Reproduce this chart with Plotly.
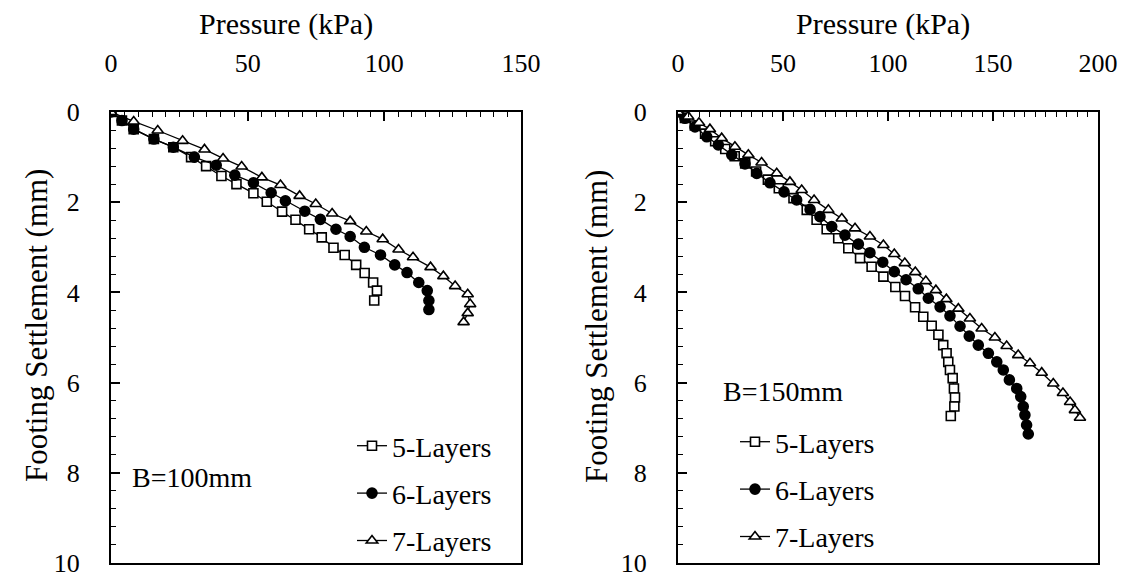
import plotly.graph_objects as go

# ---------------- data ----------------
# Left panel: B = 100 mm
p5_L = [0, 4.0, 8.3, 15.7, 22.8, 29.3, 34.8, 40.4, 45.9, 52.1, 57.0, 62.6, 67.5, 72.5, 77.1, 81.4, 85.5, 89.7, 92.8, 95.9, 97.3, 96.3]
s5_L = [0, 0.19, 0.38, 0.60, 0.78, 1.00, 1.20, 1.42, 1.60, 1.80, 1.99, 2.21, 2.39, 2.60, 2.78, 3.01, 3.17, 3.39, 3.57, 3.78, 3.96, 4.18]

p6_L = [0, 4.0, 8.3, 15.7, 22.8, 30.5, 38.5, 45.3, 52.1, 58.6, 63.8, 70.9, 76.6, 82.3, 87.5, 92.7, 98.6, 103.8, 108.3, 112.6, 115.7, 116.3, 116.3]
s6_L = [0, 0.19, 0.38, 0.60, 0.78, 1.00, 1.18, 1.40, 1.57, 1.79, 1.97, 2.20, 2.38, 2.60, 2.76, 3.00, 3.17, 3.39, 3.56, 3.78, 3.96, 4.18, 4.38]

p7_L = [0, 8.3, 17.1, 26.2, 34.2, 41.0, 47.8, 55.2, 62.0, 69.0, 74.9, 80.9, 87.5, 93.4, 99.4, 105.2, 110.5, 116.9, 121.6, 125.9, 130.5, 131.4, 130.5, 129.0]
s7_L = [0, 0.21, 0.41, 0.64, 0.83, 1.03, 1.21, 1.45, 1.62, 1.86, 2.04, 2.25, 2.42, 2.65, 2.82, 3.05, 3.22, 3.44, 3.64, 3.86, 4.04, 4.26, 4.46, 4.66]

# Right panel: B = 150 mm
p5_R = [0, 3.3, 8.0, 12.9, 17.7, 22.5, 27.0, 32.0, 37.2, 42.8, 48.0, 55.0, 61.3, 66.0, 70.8, 76.3, 81.1, 86.7, 92.2, 97.8,
        103.5, 108.1, 112.9, 116.8, 120.8, 124.0, 126.3, 127.9, 128.7, 129.5, 130.8, 131.4, 131.9, 131.6, 129.9]
s5_R = [0, 0.13, 0.30, 0.48, 0.65, 0.82, 0.98, 1.14, 1.32, 1.50, 1.69, 1.91, 2.17, 2.39, 2.60, 2.80, 3.02, 3.24, 3.43, 3.65,
        3.88, 4.08, 4.33, 4.54, 4.74, 4.94, 5.17, 5.35, 5.54, 5.72, 5.90, 6.13, 6.33, 6.53, 6.74]

p6_R = [0, 3.3, 8.1, 13.7, 19.2, 25.6, 31.9, 37.5, 43.8, 50.5, 56.5, 62.9, 67.6, 73.2, 79.5, 85.9, 91.4, 97.5, 103.0, 108.6,
        114.4, 119.2, 124.8, 129.5, 134.3, 138.7, 143.0, 147.8, 151.8, 154.9, 157.8, 161.3, 163.2, 164.4, 165.2, 166.0, 166.8]
s6_R = [0, 0.14, 0.33, 0.55, 0.73, 0.95, 1.15, 1.36, 1.57, 1.77, 1.95, 2.16, 2.32, 2.54, 2.73, 2.93, 3.12, 3.33, 3.54, 3.72,
        3.92, 4.13, 4.32, 4.52, 4.75, 4.97, 5.17, 5.35, 5.54, 5.72, 5.94, 6.13, 6.31, 6.53, 6.72, 6.94, 7.14]

p7_R = [0, 4.8, 10.0, 15.2, 20.8, 27.1, 33.5, 39.8, 47.0, 53.3, 58.9, 64.8, 71.6, 78.0, 84.3, 91.4, 97.8, 103.0, 108.0, 113.0,
        118.0, 122.8, 127.8, 133.5, 139.0, 144.6, 150.9, 156.5, 162.0, 167.6, 173.2, 178.7, 183.3, 186.7, 189.0, 191.4]
s7_R = [0, 0.10, 0.24, 0.38, 0.58, 0.77, 0.95, 1.12, 1.36, 1.55, 1.73, 1.95, 2.17, 2.36, 2.58, 2.76, 2.95, 3.15, 3.35, 3.55,
        3.75, 3.95, 4.15, 4.36, 4.58, 4.80, 5.00, 5.19, 5.39, 5.57, 5.78, 6.02, 6.23, 6.43, 6.61, 6.78]

series_names = ["5-Layers", "6-Layers", "7-Layers"]
panel_labels = ["B=100mm", "B=150mm"]
x_title = "Pressure (kPa)"
y_title = "Footing Settlement (mm)"

# ---------------- styling ----------------
PAGE_OFF = 8                      # default page body margin
W, H = 1126 - PAGE_OFF, 576 - PAGE_OFF
FONT = "Liberation Serif"
FS_LEG = 28
FS_TICK = 26
FS_XTITLE = 30
FS_YTITLE = 31
BLACK = "#000000"

styles = [
    dict(symbol="square", color="white", size=9),
    dict(symbol="circle", color=BLACK, size=10),
    dict(symbol="triangle-up", color="white", size=10),
]

fig = go.Figure()

left = [(p5_L, s5_L), (p6_L, s6_L), (p7_L, s7_L)]
right = [(p5_R, s5_R), (p6_R, s6_R), (p7_R, s7_R)]

for panel, (data, xa, ya, lg) in enumerate([(left, "x", "y", "legend"), (right, "x2", "y2", "legend2")]):
    for i, (px, sy) in enumerate(data):
        st = styles[i]
        fig.add_trace(go.Scatter(
            x=px, y=sy, mode="lines+markers", name=series_names[i],
            xaxis=xa, yaxis=ya, legend=lg, legendgroup=f"{panel}-{i}",
            line=dict(color=BLACK, width=1.3),
            marker=dict(symbol=st["symbol"], size=st["size"], color=st["color"],
                        line=dict(color=BLACK, width=1.6)),
            showlegend=True,
        ))

# screen pixel -> paper fraction
def fx(v):
    return (v - PAGE_OFF) / W

def fy(v):
    return 1 - (v - PAGE_OFF) / H

y_dom = [fy(563), fy(112)]

def xaxis(domain, rng, anchor):
    return dict(
        domain=domain, range=rng, side="top", anchor=anchor, automargin=False,
        tickmode="linear", tick0=0, dtick=50,
        ticks="inside", ticklen=9, tickwidth=1.5, tickcolor=BLACK,
        minor=dict(dtick=5, tick0=0, ticks="inside", ticklen=5, tickwidth=1.3, tickcolor=BLACK, showgrid=False),
        showline=True, linecolor=BLACK, linewidth=2, mirror=True,
        showgrid=False, zeroline=False,
        tickfont=dict(family=FONT, size=FS_TICK, color=BLACK),
        ticklabelstandoff=28, ticklabeloverflow="allow",
    )

def yaxis(domain, anchor):
    return dict(
        domain=domain, range=[10, 0], anchor=anchor, automargin=False,
        tickmode="linear", tick0=0, dtick=2,
        ticks="inside", ticklen=9, tickwidth=1.5, tickcolor=BLACK,
        minor=dict(dtick=0.4, tick0=0, ticks="inside", ticklen=5, tickwidth=1.3, tickcolor=BLACK, showgrid=False),
        showline=True, linecolor=BLACK, linewidth=2, mirror=True,
        showgrid=False, zeroline=False,
        tickfont=dict(family=FONT, size=FS_TICK, color=BLACK),
        ticklabelstandoff=24, ticklabeloverflow="allow",
    )

legend_common = dict(
    font=dict(family=FONT, size=FS_LEG, color=BLACK),
    bgcolor="rgba(0,0,0,0)", borderwidth=0,
    traceorder="grouped", tracegroupgap=8,
    xanchor="left", yanchor="top", itemsizing="trace",
)

def txt(size, **kw):
    d = dict(showarrow=False, font=dict(family=FONT, size=size, color=BLACK), xanchor="center", yanchor="middle")
    d.update(kw)
    return d

annos = [
    txt(FS_XTITLE, text=x_title, x=fx(286), y=fy(24), xref="paper", yref="paper"),
    txt(FS_XTITLE, text=x_title, x=fx(883), y=fy(24), xref="paper", yref="paper"),
    txt(FS_YTITLE, text=y_title, x=fx(36), y=fy(326), xref="paper", yref="paper", textangle=-90),
    txt(FS_YTITLE, text=y_title, x=fx(596), y=fy(327), xref="paper", yref="paper", textangle=-90),
    txt(FS_LEG, text=panel_labels[0], x=6.8, y=8.1, xref="x", yref="y", xanchor="left"),
    txt(FS_LEG, text=panel_labels[1], x=20.5, y=6.2, xref="x2", yref="y2", xanchor="left"),
]

fig.update_layout(
    template="none",
    width=W, height=H,
    margin=dict(l=0, r=0, t=0, b=0, autoexpand=False),
    font=dict(family=FONT, size=FS_LEG, color=BLACK),
    paper_bgcolor="white", plot_bgcolor="white",
    xaxis=xaxis([fx(111), fx(521)], [0, 150], "y"),
    yaxis=yaxis(y_dom, "x"),
    xaxis2=xaxis([fx(678), fx(1098)], [0, 200], "y2"),
    yaxis2=yaxis(y_dom, "x2"),
    legend=dict(x=fx(352), y=fy(421), **legend_common),
    legend2=dict(x=fx(735), y=fy(417), **legend_common),
    annotations=annos,
    showlegend=True,
)

fig.write_html("out.html")
